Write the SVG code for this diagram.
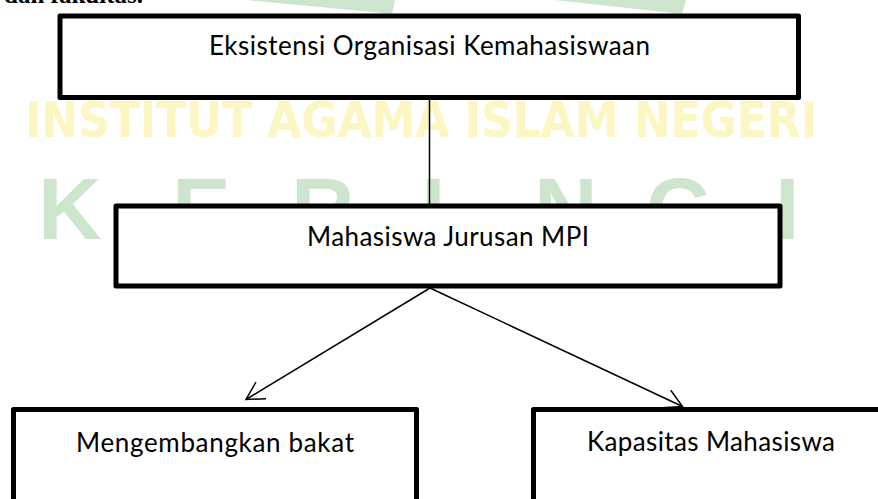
<svg xmlns="http://www.w3.org/2000/svg" width="878" height="499" viewBox="0 0 878 499">
<style>
.box{fill:#ffffff;stroke:#000000;stroke-width:5;stroke-linejoin:round}
.lbl{font-family:Lato,"Open Sans","Liberation Sans",sans-serif;font-size:26px;fill:#000000;text-anchor:middle}
.conn{stroke:#000000;stroke-width:1.5;fill:none}
.wm-g{fill:#cde5cd}
.wm-y{fill:#fcf6c2}
.wm-l{font-family:"Liberation Sans",Arial,sans-serif;font-weight:bold;font-size:88px}
</style>
<defs>
<marker id="open" markerUnits="userSpaceOnUse" viewBox="-20 -12 24 24" refX="0" refY="0" markerWidth="24" markerHeight="24" orient="auto" overflow="visible">
<path d="M-17.5,-9.7 L0,0 L-17.5,9.7" fill="none" stroke="#000000" stroke-width="1.5"/>
</marker>
<clipPath id="abovebox"><rect x="0" y="150" width="878" height="55"/></clipPath>
</defs>
<rect x="0" y="0" width="878" height="499" fill="#ffffff"/>
<g id="watermark">
<polygon class="wm-g" points="246,0 395,0 392,14 362,11"/>
<polygon class="wm-g" points="555,0 686,0 682,14 664,12"/>
<text class="wm-y" x="25" y="137" font-family="'Liberation Sans Narrow','DejaVu Sans Condensed','Liberation Sans',sans-serif" font-weight="bold" font-size="49" textLength="792" lengthAdjust="spacingAndGlyphs">INSTITUT AGAMA ISLAM NEGERI</text>
<text class="wm-g wm-l" x="38" y="239">K</text>
<g clip-path="url(#abovebox)">
<text class="wm-g wm-l" x="172" y="239">E</text>
<text class="wm-g wm-l" x="291" y="239">R</text>
<text class="wm-g wm-l" x="421" y="239">I</text>
<text class="wm-g wm-l" x="534" y="239">N</text>
<text class="wm-g wm-l" x="646" y="239">C</text>
</g>
<text class="wm-g wm-l" x="775" y="239">I</text>
</g>
<text x="4" y="3" font-family="'Liberation Serif',serif" font-weight="bold" font-size="25" fill="#000000">dan fakultas.</text>
<g id="n1">
<rect class="box" x="60" y="16" width="738.5" height="81.5"/>
<text class="lbl" x="429.5" y="55" textLength="441">Eksistensi Organisasi Kemahasiswaan</text>
</g>
<g id="n2">
<rect class="box" x="116" y="206" width="664" height="80"/>
<text class="lbl" x="448" y="246" textLength="282">Mahasiswa Jurusan MPI</text>
</g>
<g id="n3">
<rect class="box" x="13.5" y="409.5" width="403" height="120"/>
<text class="lbl" x="215" y="451.5" textLength="278">Mengembangkan bakat</text>
</g>
<g id="n4">
<rect class="box" x="533.5" y="409.5" width="355" height="120"/>
<text class="lbl" x="711" y="451" textLength="248">Kapasitas Mahasiswa</text>
</g>
<g id="connectors">
<line class="conn" x1="429.5" y1="97.5" x2="429.5" y2="206"/>
<line class="conn" x1="430" y1="288" x2="246" y2="399.5" marker-end="url(#open)"/>
<line class="conn" x1="430" y1="288" x2="682.5" y2="406.5" marker-end="url(#open)"/>
</g>
</svg>
